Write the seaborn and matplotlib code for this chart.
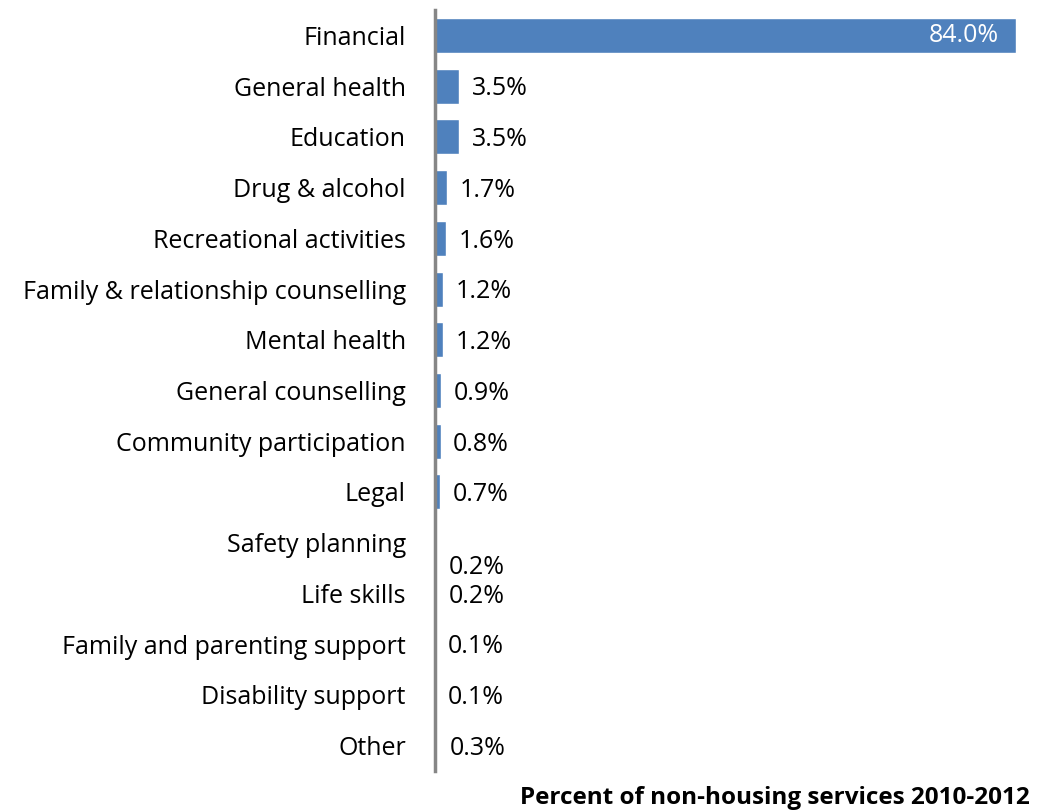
import matplotlib
matplotlib.use("Agg")
import matplotlib.pyplot as plt
import seaborn as sns
import pandas as pd

categories = [
    "Financial", "General health", "Education", "Drug & alcohol",
    "Recreational activities", "Family & relationship counselling",
    "Mental health", "General counselling", "Community participation",
    "Legal", "Safety planning", "Life skills", "Family and parenting support",
    "Disability support", "Other",
]
values = [84.0, 3.5, 3.5, 1.7, 1.6, 1.2, 1.2, 0.9, 0.8, 0.7, 0.2, 0.2, 0.1, 0.1, 0.3]
labels = ["84.0%", "3.5%", "3.5%", "1.7%", "1.6%", "1.2%", "1.2%", "0.9%", "0.8%",
          "0.7%", "0.2%", "0.2%", "0.1%", "0.1%", "0.3%"]
xlabel = "Percent of non-housing services 2010-2012"

sns.set_theme(style="white")
plt.rcParams["font.family"] = ["Open Sans", "DejaVu Sans"]

df = pd.DataFrame({"service": categories, "pct": values})

fig = plt.figure(figsize=(10.45, 8.11), dpi=100)
ax = fig.add_axes([435 / 1045, 1 - 771 / 811, (1016 - 435) / 1045, (771 - 10) / 811])

sns.barplot(data=df, x="pct", y="service", color="#4F81BD", saturation=1,
            width=0.69, ax=ax, orient="h")

ax.set_xlim(0, 84.0)
ax.set_ylim(14.5, -0.5)
ax.set_xticks([])
ax.set_xlabel("")
ax.set_ylabel("")
ax.tick_params(axis="y", length=0, pad=21, labelsize=18, labelcolor="black")
for side in ["top", "right", "bottom"]:
    ax.spines[side].set_visible(False)
ax.spines["left"].set_color("#868686")
ax.spines["left"].set_linewidth(2.5)

for i, (v, lab) in enumerate(zip(values, labels)):
    if i == 0:
        ax.annotate(lab, (v, i), xytext=(-12, 0), textcoords="offset points",
                    ha="right", va="center", color="white", fontsize=18)
    else:
        dy = -18 if categories[i] == "Safety planning" else -2
        ax.annotate(lab, (v, i), xytext=(9, dy), textcoords="offset points",
                    ha="left", va="center", color="black", fontsize=18)

fig.text(1030 / 1045, 1 - 798 / 811, xlabel, ha="right", va="center",
         fontsize=17.5, fontweight="bold", color="black")

fig.savefig("out.png", dpi=100)
